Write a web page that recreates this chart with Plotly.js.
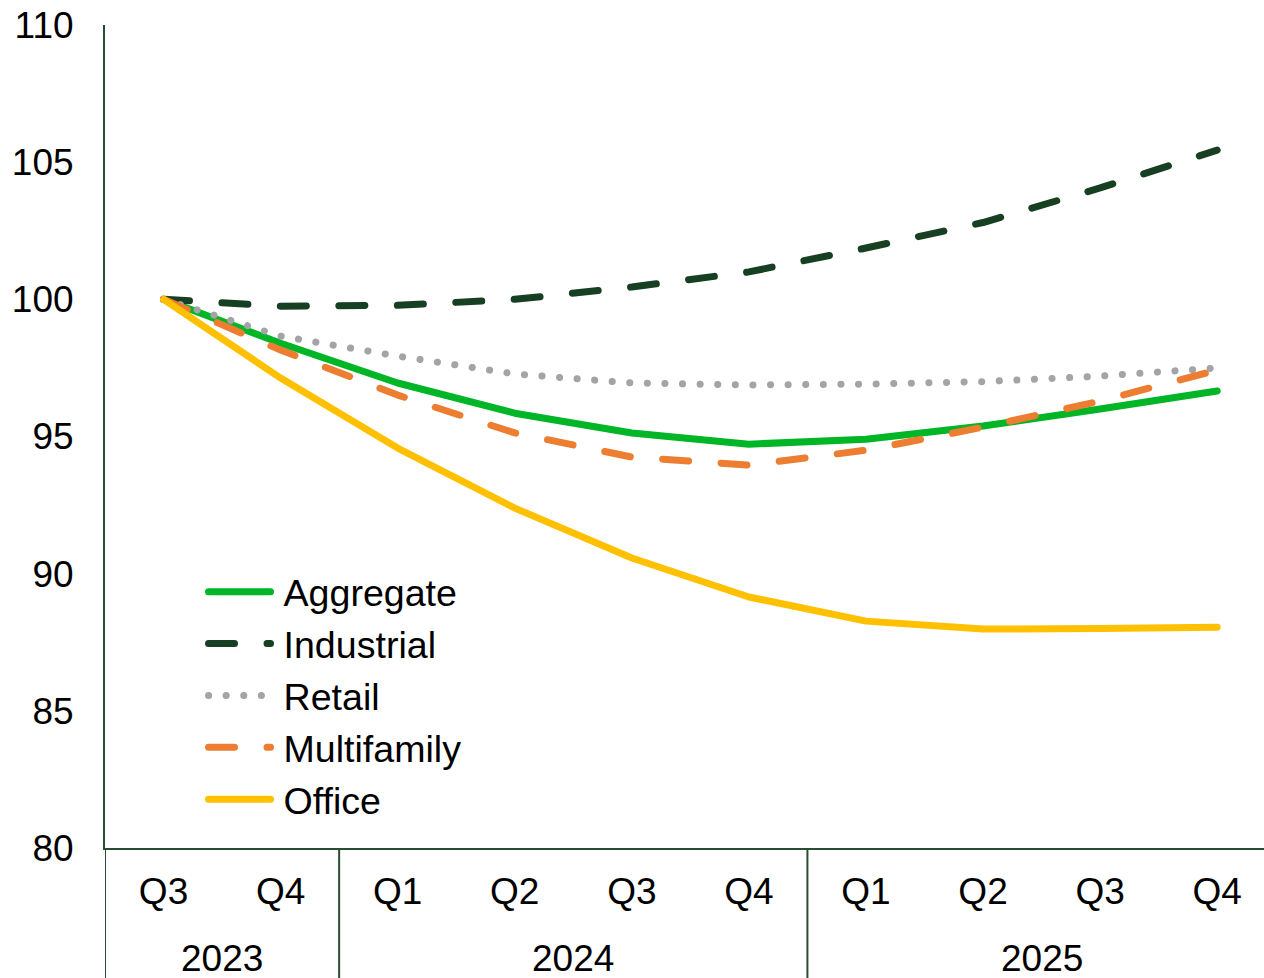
<!DOCTYPE html>
<html>
<head>
<meta charset="utf-8">
<script src="https://cdn.plot.ly/plotly-3.0.1.min.js"></script>
<style>
  html, body { margin: 0; padding: 0; background: #ffffff; }
  #chart { width: 1264px; height: 978px; }
</style>
</head>
<body>
<div id="chart"></div>
<script>
// Quarter / year labels for the category axis
const years    = ['2023', '2023', '2024', '2024', '2024', '2024', '2025', '2025', '2025', '2025'];
const quarters = ['Q3', 'Q4', 'Q1', 'Q2', 'Q3', 'Q4', 'Q1', 'Q2', 'Q3', 'Q4'];

// Index values by property type (Q3 2023 = 100)
const aggregate   = [100, 98.4, 96.95, 95.85, 95.13, 94.72, 94.9, 95.38, 96.0, 96.66];
const industrial  = [100, 99.75, 99.78, 100.0, 100.45, 101.0, 101.87, 102.8, 104.06, 105.44];
const retail      = [100, 98.66, 97.93, 97.28, 96.95, 96.88, 96.91, 97.0, 97.2, 97.5];
const multifamily = [100, 98.15, 96.51, 95.13, 94.25, 93.96, 94.5, 95.34, 96.29, 97.42];
const office      = [100, 97.13, 94.58, 92.39, 90.57, 89.15, 88.27, 87.98, 88.0, 88.05];

const seriesNames = ['Aggregate', 'Industrial', 'Retail', 'Multifamily', 'Office'];

const axisColor = '#284d30';
const font = 'Arial, "Liberation Sans", sans-serif';
const fontSize = 37;

// one unique category per quarter; the axis shows only the quarter name
const periods = years.map(function (y, i) { return y + ' ' + quarters[i]; });

function line(name, y, color, dash) {
  return {
    type: 'scatter',
    mode: 'lines',
    name: name,
    x: periods,
    y: y,
    line: { color: color, width: 7, dash: dash, shape: 'linear' },
    hoverinfo: 'skip'
  };
}

const data = [
  line(seriesNames[0], aggregate,   '#00b526', 'solid'),
  line(seriesNames[1], industrial,  '#173f22', '26px,32.5px'),
  line(seriesNames[2], retail,      '#a4a4a8', '0.1px,17.5px'),
  line(seriesNames[3], multifamily, '#ed7d31', '26px,32.5px'),
  line(seriesNames[4], office,      '#ffc000', 'solid')
];

// year groups: label centred under its quarters, dividers between groups
const groups = [];
years.forEach(function (y, i) {
  const g = groups[groups.length - 1];
  if (g && g.year === y) { g.end = i; }
  else { groups.push({ year: y, start: i, end: i }); }
});

const belowAxis = -130 / 823;   // bottom of the page, in plot-height units

const annotations = groups.map(function (g) {
  return {
    x: (g.start + g.end) / 2,
    xref: 'x',
    y: -110 / 823,
    yref: 'paper',
    yanchor: 'middle',
    xanchor: 'center',
    showarrow: false,
    text: g.year,
    font: { family: font, size: fontSize, color: '#000000' }
  };
});

const shapes = groups.map(function (g) {
  return {
    type: 'line',
    xref: 'x', yref: 'paper',
    x0: g.start - 0.5, x1: g.start - 0.5,
    y0: 0, y1: belowAxis,
    line: { color: axisColor, width: 2 }
  };
});

const layout = {
  width: 1264,
  height: 978,
  margin: { l: 105, r: 0, t: 25, b: 130, pad: 0 },
  paper_bgcolor: '#ffffff',
  plot_bgcolor: '#ffffff',
  font: { family: font, size: fontSize, color: '#000000' },
  showlegend: true,
  legend: {
    x: 0.085, y: 0.349, xanchor: 'left', yanchor: 'top',
    bgcolor: 'rgba(0,0,0,0)',
    font: { family: font, size: 37.6, color: '#000000' },
    itemwidth: 70,
    tracegroupgap: 0
  },
  xaxis: {
    type: 'category',
    range: [-0.5, 9.4],
    tickmode: 'array',
    tickvals: periods,
    ticktext: quarters,
    showline: true,
    linecolor: axisColor,
    linewidth: 2,
    showgrid: false,
    zeroline: false,
    ticks: '',
    ticklabelstandoff: 10,
    tickfont: { family: font, size: fontSize, color: '#000000' }
  },
  yaxis: {
    range: [80, 110],
    dtick: 5,
    tick0: 80,
    showline: true,
    linecolor: axisColor,
    linewidth: 2,
    showgrid: false,
    zeroline: false,
    ticks: '',
    ticklabelstandoff: 22,
    tickfont: { family: font, size: fontSize, color: '#000000' }
  },
  annotations: annotations,
  shapes: shapes
};

Plotly.newPlot('chart', data, layout, { displayModeBar: false, staticPlot: true }).then(function (gd) {
  // round caps give the dashes and dots their soft ends
  gd.querySelectorAll('.scatterlayer .js-line').forEach(function (p) {
    p.style.strokeLinecap = 'round';
    p.style.strokeLinejoin = 'round';
  });
  // longer legend swatches
  gd.querySelectorAll('.legend .legendlines path').forEach(function (p) {
    p.setAttribute('d', 'M5,0h62');
    p.style.strokeLinecap = 'round';
  });
});
</script>
</body>
</html>
